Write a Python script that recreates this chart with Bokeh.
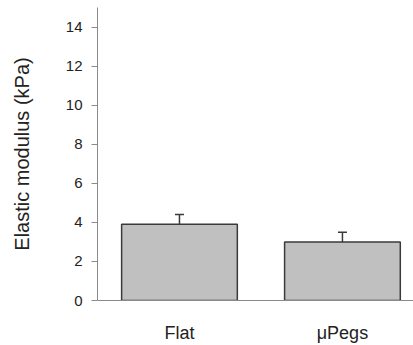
from bokeh.plotting import figure
from bokeh.models import ColumnDataSource, FixedTicker, Range1d, Whisker, TeeHead
from bokeh.embed import file_html
from bokeh.resources import INLINE

categories = ["Flat", "μPegs"]
means = [3.9, 3.0]
errors = [0.5, 0.5]
y_ticks = [0, 2, 4, 6, 8, 10, 12, 14]

xpos = list(range(len(categories)))
src = ColumnDataSource(dict(
    x=xpos, top=means,
    upper=[m + e for m, e in zip(means, errors)],
    lower=means,
))

p = figure(width=413, height=345, output_backend="svg", toolbar_location=None,
           x_range=Range1d(-0.503, 1.436), y_range=Range1d(0, 15),
           min_border_left=97, min_border_right=0, min_border_top=7, min_border_bottom=0)
p.outline_line_color = None
p.grid.visible = False
p.background_fill_color = "white"

p.vbar(x="x", top="top", bottom=0, width=0.71, source=src,
       fill_color="#c0c0c0", line_color="#3a3a3a", line_width=1.5)

w = Whisker(base="x", upper="upper", lower="lower", source=src,
            line_color="#3a3a3a", line_width=1.5,
            upper_head=TeeHead(size=9, line_color="#3a3a3a", line_width=1.5),
            lower_head=None)
p.add_layout(w)

font = "Liberation Sans"
yax = p.yaxis[0]
yax.ticker = FixedTicker(ticks=y_ticks)
yax.minor_tick_line_color = None
yax.major_tick_in = 0
yax.major_tick_out = 6
yax.axis_line_color = "#8a8a8a"
yax.major_tick_line_color = "#8a8a8a"
yax.major_label_text_font = font
yax.major_label_text_font_size = "15px"
yax.major_label_text_color = "#222222"
yax.major_label_standoff = 9
yax.axis_label = "Elastic modulus (kPa)"
yax.axis_label_text_font = font
yax.axis_label_text_font_style = "normal"
yax.axis_label_text_font_size = "20px"
yax.axis_label_text_color = "#222222"
yax.axis_label_standoff = 30

xax = p.xaxis[0]
xax.ticker = FixedTicker(ticks=xpos)
xax.major_label_overrides = {i: c for i, c in enumerate(categories)}
xax.minor_tick_line_color = None
xax.major_tick_line_color = None
xax.axis_line_color = "#8a8a8a"
xax.major_label_text_font = font
xax.major_label_text_font_size = "18px"
xax.major_label_text_color = "#222222"
xax.major_label_standoff = 16

open("out.html", "w").write(file_html(p, INLINE))
